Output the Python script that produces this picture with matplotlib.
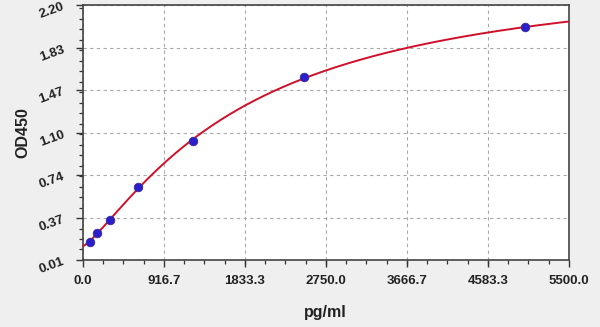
"""
Standard curve (OD450 vs pg/ml) with a four-parameter logistic fit.
"""

import numpy as np
import matplotlib
matplotlib.use("Agg")
import matplotlib.pyplot as plt
from matplotlib.ticker import AutoMinorLocator

plt.rcParams.update({
    "font.family": ["Liberation Sans", "DejaVu Sans"],
    "font.weight": "bold",
})

# standards
conc = [78.125, 156.25, 312.5, 625, 1250, 2500, 5000]
od = [0.167, 0.24, 0.35, 0.64, 1.03, 1.58, 2.006]

x_ticks = [0.0, 916.7, 1833.3, 2750.0, 3666.7, 4583.3, 5500.0]
y_ticks = [0.01, 0.37, 0.74, 1.10, 1.47, 1.83, 2.20]


# ── 4PL fit (small Levenberg-Marquardt, no scipy) ────────────────────────────

def four_pl(x, a, b, c, d):
    return d + (a - d) / (1.0 + (np.asarray(x) / c) ** b)


def fit_four_pl(x, y, p0, n_iter=500):
    x = np.asarray(x, float)
    y = np.asarray(y, float)
    p = np.asarray(p0, float)
    lam = 1e-3
    cost = np.sum((four_pl(x, *p) - y) ** 2)
    for _ in range(n_iter):
        r = four_pl(x, *p) - y
        J = np.empty((len(x), len(p)))
        for k in range(len(p)):
            dp = np.zeros_like(p)
            dp[k] = 1e-6 * max(abs(p[k]), 1.0)
            J[:, k] = (four_pl(x, *(p + dp)) - four_pl(x, *(p - dp))) / (2 * dp[k])
        A = J.T @ J
        g = J.T @ r
        step = np.linalg.solve(A + lam * np.diag(np.diag(A)), -g)
        p_new = p + step
        if p_new[2] <= 0:
            lam *= 10
            continue
        new_cost = np.sum((four_pl(x, *p_new) - y) ** 2)
        if new_cost < cost:
            p, cost = p_new, new_cost
            lam /= 3
        else:
            lam *= 5
    return p


params = fit_four_pl(conc, od, p0=[0.1, 1.2, 2000.0, 2.6])
x_fit = np.linspace(0, 5500, 400)
y_fit = four_pl(x_fit, *params)

# ── plot ─────────────────────────────────────────────────────────────────────

fig = plt.figure(figsize=(6.0, 3.27), dpi=100, facecolor="#efefef")
ax = fig.add_axes([0.138, 0.205, 0.81, 0.78])
ax.set_facecolor("white")

ax.plot(x_fit, y_fit, color="#d0102a", linewidth=1.4, zorder=3)
ax.scatter(conc, od, s=38, color="#2a1fc8", edgecolor="#3a2a9a",
           linewidth=0.6, zorder=4)

ax.set_xlim(0, 5500)
ax.set_ylim(0.01, 2.20)
ax.set_xticks(x_ticks)
ax.set_xticklabels([f"{v:.1f}" for v in x_ticks], fontsize=9.5,
                   fontweight="bold", color="#222222")
ax.set_yticks(y_ticks)
ax.set_yticklabels([f"{v:.2f}" for v in y_ticks], fontsize=9.5,
                   fontweight="bold", rotation=20, color="#222222")
ax.xaxis.set_minor_locator(AutoMinorLocator(4))
ax.yaxis.set_minor_locator(AutoMinorLocator(4))
ax.tick_params(which="major", length=5, width=1.0, color="#333333")
ax.tick_params(axis="x", which="major", pad=6)
ax.tick_params(axis="y", which="major", pad=7)
ax.tick_params(which="minor", length=3, width=0.9, color="#333333")

ax.grid(True, which="major", linestyle=(0, (3, 3)), color="#a8a8a8", linewidth=0.8)
ax.set_axisbelow(True)
for side in ax.spines.values():
    side.set_color("#444444")
    side.set_linewidth(1.2)

ax.set_xlabel("pg/ml", fontsize=11.5, fontweight="bold", labelpad=13, color="#222222")
ax.set_ylabel("OD450", fontsize=11.5, fontweight="bold", labelpad=5, color="#222222")

fig.savefig("out.png", dpi=100, facecolor=fig.get_facecolor())
plt.close(fig)
